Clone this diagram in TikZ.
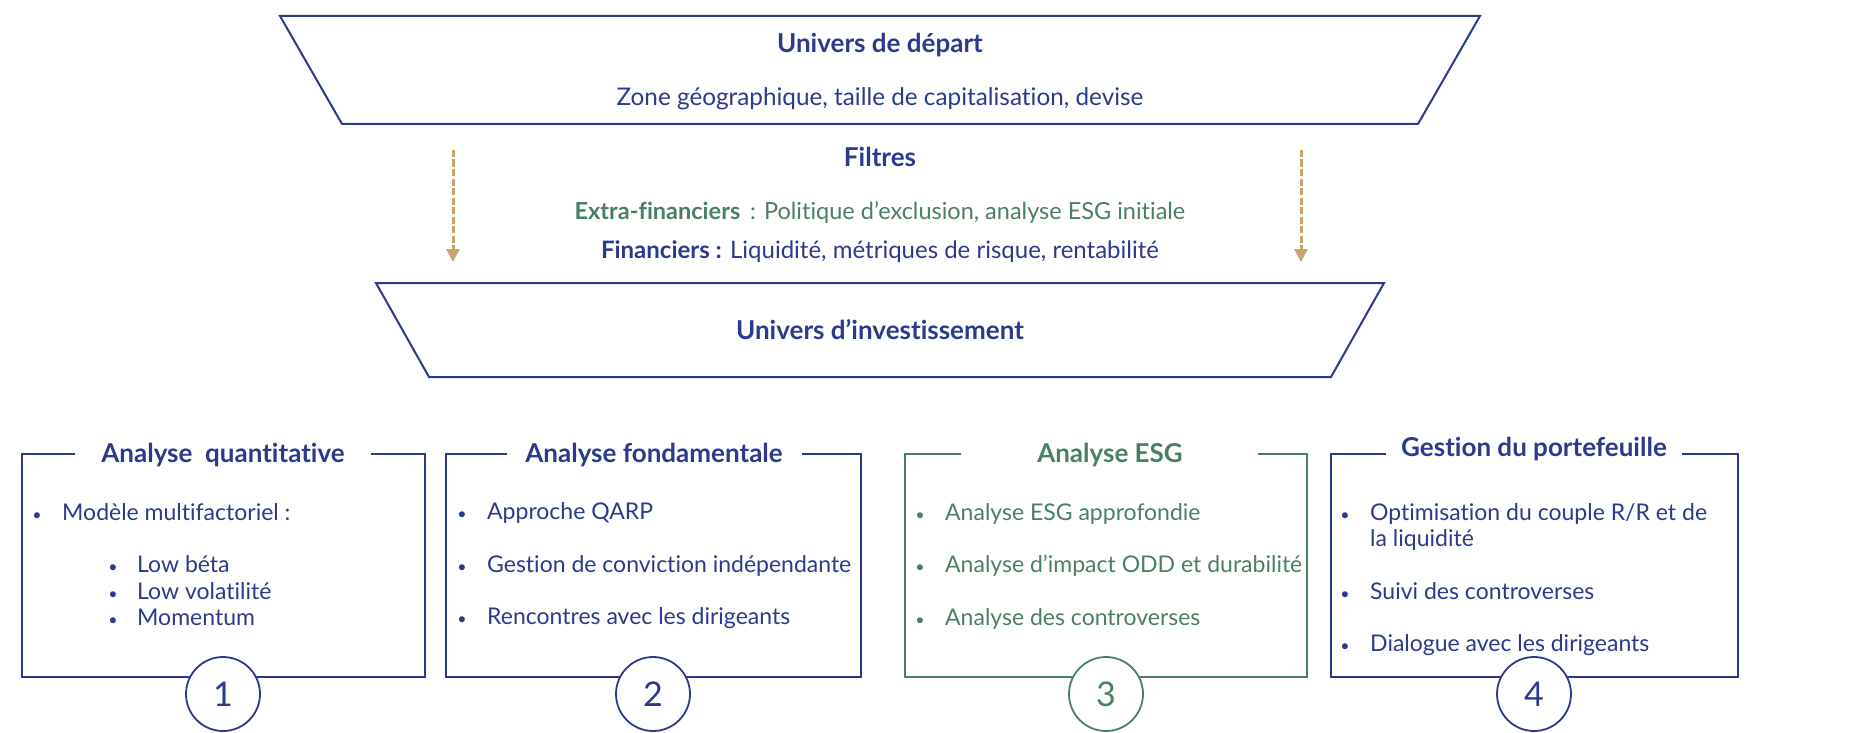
\documentclass[tikz,border=0pt]{standalone}
\usepackage{fontspec}
\setmainfont{Lato}[Ligatures=NoCommon]
\usetikzlibrary{arrows.meta}
\definecolor{navy}{HTML}{2B3A8C}
\definecolor{esg}{HTML}{4A8062}
\definecolor{gold}{HTML}{C9A46C}
\begin{document}
\begin{tikzpicture}[x=1pt,y=-1pt,
  line/.style={draw=#1, line width=2pt, line join=miter},
  line/.default=navy,
  txt/.style={font=\fontsize{23}{28}\selectfont, text=#1, inner sep=0pt, anchor=base west},
  txt/.default=navy,
  ctxt/.style={font=\fontsize{24}{28}\selectfont, text=#1, inner sep=0pt, anchor=base},
  ctxt/.default=navy,
  ttl/.style={font=\fontsize{26}{30}\selectfont\bfseries, text=#1, inner sep=0pt, anchor=base},
  ttl/.default=navy,
  bul/.style={font=\fontsize{16}{20}\selectfont, text=#1, inner sep=0pt, anchor=base},
  bul/.default=navy,
  num/.style={circle, draw=#1, line width=1.8pt, fill=white, minimum size=74pt, inner sep=0pt, font=\fontsize{34}{34}\selectfont, text=#1},
  num/.default=navy,
  farrow/.style={draw=gold, line width=3pt, dash pattern=on 7pt off 2.5pt, -{Triangle[length=13pt,width=13pt]}}
]
\useasboundingbox (0,0) rectangle (1850,733);

% funnel
\draw[line] (280,16) -- (1480,16) -- (1418,124) -- (342,124) -- cycle;
\node[ttl] (ud) at (880,53) {Univers de départ};
\node[ctxt, font=\fontsize{24.3}{28}\selectfont] (zone) at (880,106) {Zone géographique, taille de capitalisation, devise};

\node[ttl] (filt) at (880,167) {Filtres};
\node[ctxt=esg, font=\fontsize{23.5}{28}\selectfont] (extra) at (880,219) {\textbf{Extra-financiers} \,: Politique d’exclusion, analyse ESG initiale};
\node[ctxt] (fin) at (880,258) {\textbf{Financiers :} Liquidité, métriques de risque, rentabilité};

\coordinate (a1s) at (453,150); \coordinate (a1e) at (453,262);
\coordinate (a2s) at (1301,150); \coordinate (a2e) at (1301,262);
\draw[farrow] (a1s) -- (a1e);
\draw[farrow] (a2s) -- (a2e);

\draw[line] (376,283) -- (1384,283) -- (1331,377) -- (429,377) -- cycle;
\node[ttl] (ui) at (880,339) {Univers d’investissement};

% box 1
\draw[line] (75,454) -- (22,454) -- (22,677) -- (425,677) -- (425,454) -- (371,454);
\node[ttl] (t1) at (223,462) {Analyse\ \ quantitative};
\node[bul] (b11) at (37,520) {•};
\node[txt] (l11) at (62,520) {Modèle multifactoriel :};
\node[bul] (b12) at (113,572) {•};
\node[txt] (l12) at (137,572) {Low béta};
\node[bul] (b13) at (113,599) {•};
\node[txt] (l13) at (137,599) {Low volatilité};
\node[bul] (b14) at (113,625) {•};
\node[txt] (l14) at (137,625) {Momentum};
\node[num] (n1) at (223,694) {1};

% box 2
\draw[line] (507,454) -- (446,454) -- (446,677) -- (861,677) -- (861,454) -- (802,454);
\node[ttl] (t2) at (654,462) {Analyse fondamentale};
\node[bul] (b21) at (462,519) {•};
\node[txt] (l21) at (487,519) {Approche QARP};
\node[bul] (b22) at (462,572) {•};
\node[txt] (l22) at (487,572) {Gestion de conviction indépendante};
\node[bul] (b23) at (462,624) {•};
\node[txt] (l23) at (487,624) {Rencontres avec les dirigeants};
\node[num] (n2) at (653,694) {2};

% box 3
\draw[line=esg] (961,454) -- (905,454) -- (905,677) -- (1307,677) -- (1307,454) -- (1258,454);
\node[ttl=esg] (t3) at (1110,462) {Analyse ESG};
\node[bul=esg] (b31) at (920,520) {•};
\node[txt=esg] (l31) at (945,520) {Analyse ESG approfondie};
\node[bul=esg] (b32) at (920,572) {•};
\node[txt=esg] (l32) at (945,572) {Analyse d’impact ODD et durabilité};
\node[bul=esg] (b33) at (920,625) {•};
\node[txt=esg] (l33) at (945,625) {Analyse des controverses};
\node[num=esg] (n3) at (1106,694) {3};

% box 4
\draw[line] (1386,454) -- (1331,454) -- (1331,677) -- (1738,677) -- (1738,454) -- (1682,454);
\node[ttl] (t4) at (1534,456) {Gestion du portefeuille};
\node[bul] (b41) at (1345,520) {•};
\node[txt] (l41) at (1370,520) {Optimisation du couple R/R et de};
\node[txt] (l41b) at (1370,546) {la liquidité};
\node[bul] (b42) at (1345,599) {•};
\node[txt] (l42) at (1370,599) {Suivi des controverses};
\node[bul] (b43) at (1345,651) {•};
\node[txt] (l43) at (1370,651) {Dialogue avec les dirigeants};
\node[num] (n4) at (1534,694) {4};
\end{tikzpicture}
\end{document}
